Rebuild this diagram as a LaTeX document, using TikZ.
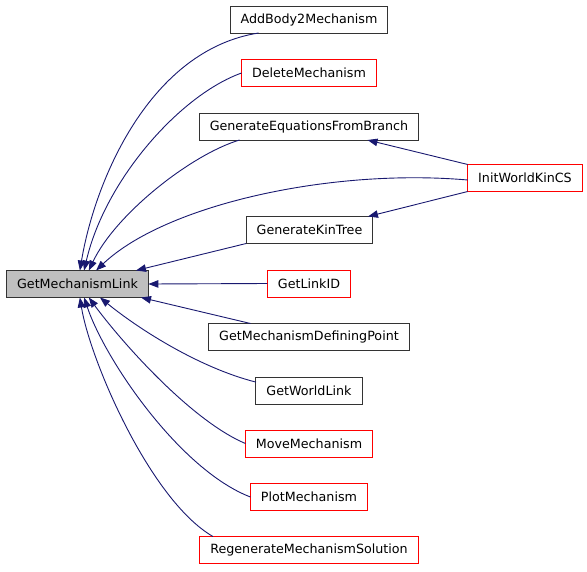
\documentclass[tikz,border=0pt]{standalone}
\usepackage{fontspec}
\setmainfont{DejaVu Sans}
\usetikzlibrary{arrows.meta}

\definecolor{edgeblue}{HTML}{191970}
\definecolor{boxgray}{HTML}{BFBFBF}

\tikzset{
    fn/.style={draw=black!80, line width=1pt, minimum height=27pt,
        inner xsep=10.5pt, inner ysep=0pt, outer sep=0pt,
        font=\fontsize{12.7}{15}\selectfont},
    fnred/.style={fn, draw=red},
    call/.style={edgeblue, line width=0.9pt,
        -{Triangle[length=10pt,width=7.5pt]}}
}

\begin{document}
\begin{tikzpicture}[x=1pt,y=-1pt]

\useasboundingbox (0,0) rectangle (587,571);

% Callee
\node[fn, fill=boxgray] (gml) at (77.5,284) {GetMechanismLink};

% Callers
\node[fn]    (addbody)   at (309,19.5)  {AddBody2Mechanism};
\node[fnred] (delmech)   at (309,73)    {DeleteMechanism};
\node[fn]    (geneq)     at (309,126.5) {GenerateEquationsFromBranch};
\node[fn]    (genkin)    at (309.5,230) {GenerateKinTree};
\node[fnred] (linkid)    at (309,283.5) {GetLinkID};
\node[fn]    (defpt)     at (309,337)   {GetMechanismDefiningPoint};
\node[fn]    (worldlink) at (309,390.5) {GetWorldLink};
\node[fnred] (movemech)  at (309,443.5) {MoveMechanism};
\node[fnred] (plotmech)  at (309,497)   {PlotMechanism};
\node[fnred] (regen)     at (309,550)   {RegenerateMechanismSolution};
\node[fnred] (initkin)   at (525,178)   {InitWorldKinCS};

% Edges into GetMechanismLink (top)
\draw[call] (addbody.195) .. controls (150,50) and (95,180) .. (gml.80);
\draw[call] (delmech.west) .. controls (180,95) and (105,180) .. (gml.64);
\draw[call] (geneq.191) .. controls (190,155) and (115,215) .. (gml.50);
\draw[call] (initkin.182) .. controls (330,168) and (165,205) .. (gml.36);
\draw[call] (genkin.south west) -- (gml.13);

% Edge from the right
\draw[call] (linkid.west) -- (gml.east);

% Edges into GetMechanismLink (bottom)
\draw[call] (defpt.167) -- (gml.-12);
\draw[call] (worldlink.171) .. controls (200,368) and (140,330) .. (gml.-31);
\draw[call] (movemech.west) .. controls (190,420) and (120,340) .. (gml.-50);
\draw[call] (plotmech.west) .. controls (180,470) and (105,360) .. (gml.-64);
\draw[call] (regen.172) .. controls (150,500) and (90,360) .. (gml.-80);

% InitWorldKinCS to the two generators
\draw[call] (initkin.north west) -- (geneq.-13);
\draw[call] (initkin.south west) -- (genkin.13);

\end{tikzpicture}
\end{document}
